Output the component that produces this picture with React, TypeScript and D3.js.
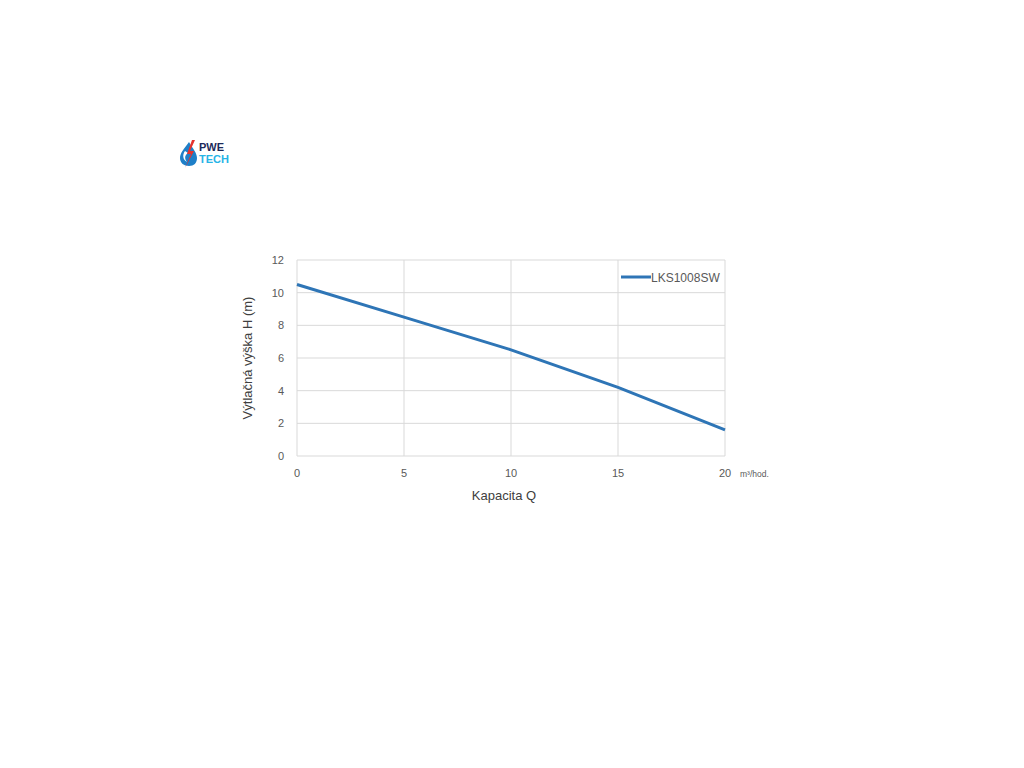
import React from "react";
import * as d3 from "d3";

const flowQ = [0, 5, 10, 15, 20];
const headH = [10.5, 8.5, 6.5, 4.2, 1.6];
const xTicks = [0, 5, 10, 15, 20];
const yTicks = [0, 2, 4, 6, 8, 10, 12];
const seriesName = "LKS1008SW";

const FONT = "'Liberation Sans', 'DejaVu Sans', sans-serif";

export default function App() {
  const W = 1024, H = 768;
  const left = 297, right = 725, top = 260, bottom = 456;
  const x = d3.scaleLinear().domain([0, 20]).range([left, right]);
  const y = d3.scaleLinear().domain([0, 12]).range([bottom, top]);
  const line = d3.line<number>().x((_, i) => x(flowQ[i])).y((d) => y(d));
  const grid = "#d9d9d9";
  const txt = "#595959";
  return (
    <svg width={W} height={H} style={{ position: "absolute", left: 0, top: 0 }}>
      <rect width={W} height={H} fill="#fff" />
      {/* logo */}
      <g>
        <path d="M189,142 C184,149 180,153 180,158 C180,163 184,166 189,166 C194,166 197,163 197,158 C197,153 193,149 189,142 Z" fill="#1e7fc8" />
        <path d="M185,151 C182,155 183,160 187,162 C184,158 185,155 188,153 Z" fill="#fff" />
        <path d="M192,140 L187,154 L191,154 L185,168 L194,151 L190,151 L195,140 Z" fill="#e5322d" />
        <text x={199} y={151} fontFamily={FONT} fontWeight="bold" fontSize={11} fill="#1d2a5a">PWE</text>
        <text x={199} y={163} fontFamily={FONT} fontWeight="bold" fontSize={11} fill="#27b4e6">TECH</text>
      </g>
      {/* grid */}
      {yTicks.map((t) => (
        <line key={"gy" + t} x1={left} x2={right} y1={y(t)} y2={y(t)} stroke={grid} strokeWidth={1} />
      ))}
      {xTicks.map((t) => (
        <line key={"gx" + t} x1={x(t)} x2={x(t)} y1={top} y2={bottom} stroke={grid} strokeWidth={1} />
      ))}
      {/* y labels */}
      {yTicks.map((t) => (
        <text key={"ly" + t} x={284} y={y(t) + 4} textAnchor="end" fontFamily={FONT} fontSize={11} fill={txt}>{t}</text>
      ))}
      {xTicks.map((t) => (
        <text key={"lx" + t} x={x(t)} y={477} textAnchor="middle" fontFamily={FONT} fontSize={11} fill={txt}>{t}</text>
      ))}
      <text x={740} y={477} fontFamily={FONT} fontSize={8.5} fill={txt}>m³/hod.</text>
      <text x={504} y={500} textAnchor="middle" fontFamily={FONT} fontSize={13} fill="#404040">Kapacita Q</text>
      <text transform={`translate(252,${358}) rotate(-90)`} textAnchor="middle" fontFamily={FONT} fontSize={13} fill="#404040">Výtlačná výška H (m)</text>
      {/* series */}
      <path d={line(headH) || ""} fill="none" stroke="#2e75b6" strokeWidth={3} strokeLinejoin="round" />
      {/* legend */}
      <line x1={621} x2={651} y1={277} y2={277} stroke="#2e75b6" strokeWidth={3} />
      <text x={651} y={281.5} fontFamily={FONT} fontSize={12} fill={txt}>{seriesName}</text>
    </svg>
  );
}
